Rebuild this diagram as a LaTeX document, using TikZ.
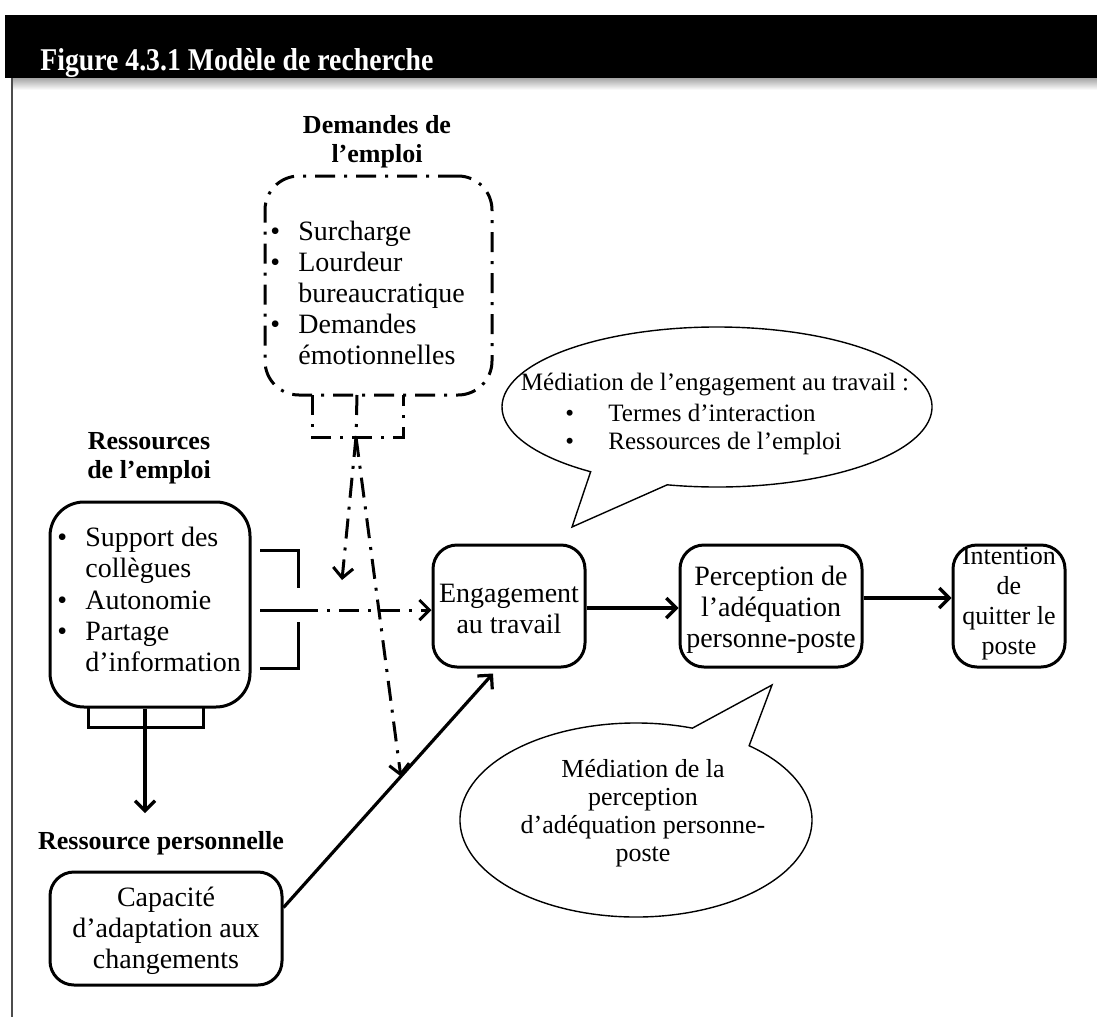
\documentclass[tikz,border=0pt]{standalone}
\usepackage{fontspec}
\setmainfont{Liberation Serif}
\usepackage{graphicx}
\usetikzlibrary{arrows.meta}
\newcommand\bul{\llap{\makebox[14pt][l]{\textbullet}}}
\begin{document}
\begin{tikzpicture}[x=0.5pt,y=0.5pt,
  boxst/.style={draw, line width=1.5pt, rounded corners=12pt, inner sep=0pt},
  ddst/.style={line width=1.5pt, dash pattern=on 10pt off 4.5pt on 1.5pt off 4.5pt},
  solidln/.style={line width=1.5pt},
  arr/.style={line width=1.6pt, -{Straight Barb[length=5pt,width=10pt]}},
  txt/.style={font=\fontsize{14}{15.6}\selectfont, align=center, inner sep=0pt},
  lft/.style={font=\fontsize{14}{15.6}\selectfont, align=left, inner sep=0pt},
  lab/.style={font=\fontsize{13}{14.5}\selectfont\bfseries, align=center, inner sep=0pt},
  bub/.style={draw, line width=0.7pt, fill=white, line join=miter},
  btxt/.style={font=\fontsize{12.5}{14.5}\selectfont, inner sep=0pt},
  b2txt/.style={font=\fontsize{13}{14}\selectfont, align=center, inner sep=0pt}
]
\useasboundingbox (0,0) rectangle (1097,-1017);
% header band
\fill[black] (5,-15) rectangle (1097,-78);
\shade[top color=black!35, bottom color=white] (12,-78) rectangle (1097,-90);
\node[anchor=base west, text=white, inner sep=0pt] (title) at (40,-70)
  {\resizebox{196.5pt}{11pt}{\bfseries Figure 4.3.1 Modèle de recherche}};
\draw[black!70, line width=1pt] (12,-78) -- (12,-1017);

% speech bubbles
\draw[bub] ([shift={(256.6:215 and 80)}]717,-407) arc[start angle=256.6, end angle=594, x radius=215, y radius=80] -- (572,-527) -- cycle;
\node[btxt] (b1t) at (715,-385) {Médiation de l’engagement au travail :};
\node[btxt, anchor=west] (b1a) at (565,-413) {\makebox[21.5pt][l]{\textbullet}Termes d’interaction};
\node[btxt, anchor=west] (b1b) at (565,-443) {\makebox[21.5pt][l]{\textbullet}Ressources de l’emploi};

\draw[bub] ([shift={(71.3:176 and 97)}]636,-820) arc[start angle=71.3, end angle=410, x radius=176, y radius=97] -- (772,-685) -- cycle;
\node[b2txt] (b2t) at (643,-813) {Médiation de la\\perception\\d’adéquation personne-\\poste};

% labels
\node[lab] (dlab) at (377,-142) {Demandes de\\l’emploi};
\node[lab] (rlab) at (149,-458) {Ressources\\de l’emploi};
\node[lab] (plab) at (161,-843) {Ressource personnelle};

% Demandes box
\node[draw, ddst, rounded corners=17pt, minimum width=113.5pt, minimum height=109.5pt, inner sep=0pt] (dem) at (378.5,-285.5) {};
\node[lft, anchor=west] (demt) at (298,-293) {\bul Surcharge\\\bul Lourdeur\\bureaucratique\\\bul Demandes\\émotionnelles};

% Ressources box
\node[boxst, rounded corners=17pt, minimum width=100pt, minimum height=102.5pt] (resbox) at (150,-604.5) {};
\node[lft, anchor=west] (rest) at (85,-599.5) {\bul Support des\\collègues\\\bul Autonomie\\\bul Partage\\d’information};

% Main chain
\node[boxst, minimum width=76pt, minimum height=61pt] (engage) at (509,-606) {};
\node[txt] (enget) at (509,-609) {Engagement\\au travail};
\node[boxst, minimum width=91pt, minimum height=61pt] (percep) at (771,-606) {};
\node[txt] (perct) at (771,-610) {Perception de\\l’adéquation\\personne-poste};
\node[boxst, minimum width=56pt, minimum height=61pt] (intent) at (1009,-606) {};
\node[txt, font=\fontsize{13}{15}\selectfont] (intt) at (1009,-604) {Intention\\de\\quitter le\\poste};
\node[boxst, minimum width=116pt, minimum height=56.5pt] (capac) at (166,-928.5) {};
\node[txt] (capt) at (166,-931) {Capacité\\d’adaptation aux\\changements};

\draw[arr] ([yshift=-1pt]engage.east) -- ([yshift=-1pt]percep.west);
\draw[arr] ([yshift=4pt]percep.east) -- ([yshift=4pt]intent.west);
\draw[arr] ([yshift=10.5pt]capac.east) -- ([xshift=-8pt,yshift=-2.5pt]engage.south);
\path ([yshift=10.5pt]capac.east) -- coordinate[pos=0.56] (tipB) ([xshift=-8pt,yshift=-2.5pt]engage.south);

% Ressources brackets
\draw[solidln] (260,-550) -- (298,-550) -- (298,-588);
\draw[solidln] (298,-622) -- (298,-668) -- (260,-668);
\draw[solidln] (260,-610) -- (298,-610);
\coordinate (rbr) at (298,-610);
\draw[ddst, -{Straight Barb[length=5pt,width=10pt]}] (rbr) -- ([yshift=-2pt]engage.west);

\draw[solidln] (88,-707) -- (88,-727) -- (203,-727) -- (203,-707);
\coordinate (rtip) at (145,-813);
\draw[arr] ([xshift=-2.5pt]resbox.south) -- (rtip);

% Demandes bracket
\draw[ddst] (312,-395) -- (312,-437) -- (403,-437) -- (403,-395);
\coordinate (djoin) at (356,-437);
\draw[ddst] (357,-395) -- (djoin);
\coordinate (tipA) at (342,-580);
\draw[ddst, -{Straight Barb[length=5pt,width=10pt]}] (djoin) -- (tipA);
\draw[ddst, -{Straight Barb[length=5pt,width=10pt]}] (djoin) -- (tipB);
\end{tikzpicture}
\end{document}
